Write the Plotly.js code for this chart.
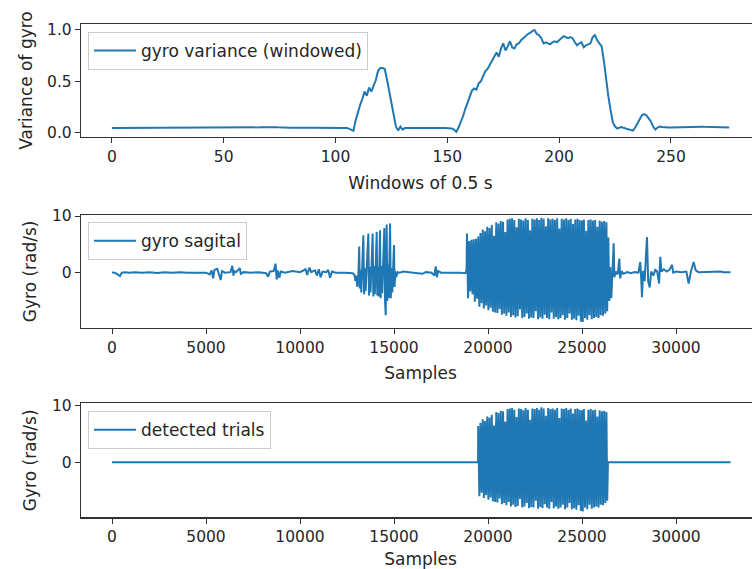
<!DOCTYPE html>
<html>
<head>
<meta charset="utf-8">
<script src="https://cdn.plot.ly/plotly-3.0.1.min.js"></script>
<style>
html, body { margin: 0; padding: 0; overflow: hidden; background: #fff; }
#chart { width: 770px; height: 569px; }
</style>
</head>
<body>
<div id="chart"></div>
<script>
// ---- Data ----
// Windowed gyro variance, one value per 0.5 s window (window 0 .. 276)
const varWin = [
  0.045,0.045,0.046,0.045,0.045,0.045,0.046,0.045,0.045,0.045,
  0.045,0.046,0.045,0.045,0.045,0.045,0.045,0.046,0.045,0.045,
  0.045,0.045,0.046,0.045,0.045,0.046,0.045,0.045,0.045,0.046,
  0.046,0.045,0.045,0.046,0.046,0.045,0.046,0.046,0.047,0.046,
  0.046,0.047,0.048,0.047,0.048,0.049,0.050,0.050,0.049,0.050,
  0.051,0.050,0.049,0.050,0.048,0.047,0.048,0.047,0.046,0.046,
  0.046,0.047,0.046,0.047,0.048,0.050,0.052,0.054,0.055,0.056,
  0.057,0.056,0.055,0.054,0.052,0.050,0.049,0.048,0.047,0.047,
  0.047,0.048,0.047,0.048,0.048,0.049,0.048,0.048,0.047,0.048,
  0.048,0.048,0.049,0.048,0.048,0.047,0.048,0.048,0.047,0.047,
  0.048,0.047,0.046,0.047,0.046,0.045,0.040,0.030,0.018,0.120,
  0.200,0.270,0.330,0.400,0.360,0.440,0.400,0.460,0.510,0.600,
  0.630,0.630,0.620,0.520,0.400,0.280,0.170,0.060,0.020,0.060,
  0.030,0.045,0.046,0.045,0.046,0.045,0.045,0.046,0.045,0.045,
  0.046,0.045,0.045,0.046,0.045,0.045,0.046,0.045,0.045,0.046,
  0.045,0.044,0.040,0.030,0.008,0.050,0.100,0.160,0.230,0.290,
  0.360,0.410,0.430,0.420,0.480,0.500,0.550,0.600,0.620,0.660,
  0.700,0.750,0.780,0.740,0.820,0.870,0.800,0.840,0.890,0.830,
  0.820,0.860,0.870,0.900,0.920,0.940,0.960,0.970,0.990,1.000,
  0.960,0.950,0.920,0.870,0.880,0.870,0.860,0.880,0.890,0.880,
  0.900,0.920,0.940,0.930,0.920,0.930,0.920,0.880,0.850,0.870,
  0.880,0.830,0.850,0.860,0.870,0.930,0.950,0.900,0.870,0.840,
  0.700,0.500,0.350,0.220,0.100,0.060,0.040,0.050,0.055,0.045,
  0.040,0.035,0.025,0.020,0.050,0.090,0.140,0.170,0.180,0.170,
  0.140,0.110,0.060,0.030,0.050,0.060,0.055,0.052,0.052,0.051,
  0.051,0.052,0.051,0.051,0.052,0.052,0.053,0.054,0.055,0.056,
  0.057,0.058,0.058,0.059,0.058,0.057,0.056,0.055,0.054,0.053,
  0.052,0.052,0.051,0.051,0.052,0.051,0.051
];

// Gyro sagittal signal, [sample, rad/s], quiet stretch before the first burst
const sagQuiet1 = [
  [0,0.05],[150,0.0],[250,-0.2],[425,-0.6],[520,0.0],[700,0.1],[900,0.0],[1200,0.1],
  [1600,0.0],[2000,0.1],[2400,-0.05],[2800,0.1],[3200,0.0],[3600,0.1],[4000,0.0],
  [4500,0.05],[5000,0.0],[5200,-0.3],[5300,0.4],[5380,-1.0],[5450,0.5],[5600,0.7],
  [5700,-0.3],[5780,-1.3],[5850,0.3],[6000,0.0],[6300,0.1],[6400,1.2],[6460,-0.5],
  [6500,0.3],[6600,0.1],[6800,0.8],[6850,-0.2],[7000,0.1],[7400,0.0],[7800,0.1],
  [8200,-0.1],[8300,-0.7],[8400,0.2],[8600,0.3],[8700,1.6],[8760,-1.2],[8820,0.4],
  [8900,-0.9],[8980,0.2],[9200,0.0],[9600,0.3],[10000,0.1],[10300,0.6],[10380,-0.4],
  [10500,0.9],[10600,0.1],[10800,0.4],[10900,-0.5],[11000,0.6],[11100,-0.8],[11200,0.2],
  [11400,0.1],[11500,0.5],[11600,-0.9],[11700,0.2],[11900,0.0],[12400,0.0],[12800,-0.1],
  [12900,-0.4]
];
// first walking burst
const sagBurst1 = [
  [12950,-1.5],[13000,-0.5],[13050,-2.5],[13100,-1.0],[13150,4.6],[13180,-2.8],[13220,0.5],
  [13260,-3.5],[13300,1.0],[13370,6.6],[13410,-3.8],[13450,0.8],[13490,-3.2],[13530,0.5],
  [13635,6.9],[13670,-4.0],[13710,1.0],[13750,-3.5],[13800,0.8],[13866,6.9],[13900,-4.2],
  [13940,1.2],[13980,-3.8],[14020,0.5],[14080,7.2],[14110,-4.0],[14150,1.0],[14190,-4.2],
  [14255,7.5],[14290,-4.5],[14330,1.2],[14370,-3.6],[14420,0.8],[14485,7.9],[14520,-4.8],
  [14560,-7.5],[14610,8.5],[14640,-5.0],[14680,1.5],[14720,-4.5],[14790,8.7],[14830,-4.5],
  [14870,0.8],[14910,-3.5],[14950,0.5],[15000,4.9],[15030,-2.5],[15070,0.3],[15110,-0.8]
];
const sagQuiet2 = [
  [15200,0.1],[15300,0.0],[15500,0.2],[15800,0.1],[16200,0.0],[16500,-0.2],[16700,0.1],
  [17000,0.0],[17150,-0.5],[17220,1.1],[17280,-0.8],[17350,0.3],[17500,0.0],[18000,0.05],
  [18500,0.0],[18800,-0.1]
];
// main walking trials (dense part)
const sagDense = [
  [18860,0.5],[18880,6.9],[18940,-4.5],[19000,5.6],[19060,-3.3],[19120,5.8],[19180,-3.8],
  [19240,5.9],[19300,-5.1],[19360,6.0],[19420,-4.6],[19480,6.4],[19540,-6.0],[19600,7.0],
  [19660,-5.4],[19720,7.6],[19780,-6.3],[19840,7.3],[19900,-5.8],[19960,8.1],[20020,-6.6],
  [20080,7.9],[20140,-6.2],[20200,8.4],[20260,-6.9],[20320,6.5],[20380,-7.0],[20440,8.9],
  [20500,-7.1],[20560,8.7],[20620,-6.4],[20680,9.1],[20740,-7.4],[20800,9.0],[20860,-7.2],
  [20920,7.2],[20980,-7.6],[21040,9.4],[21100,-7.0],[21160,9.5],[21220,-7.8],[21280,9.6],
  [21340,-7.5],[21400,9.3],[21460,-7.9],[21520,8.0],[21580,-7.7],[21640,9.5],[21700,-6.5],
  [21760,9.4],[21820,-8.0],[21880,9.2],[21940,-7.8],[22000,9.6],[22060,-7.2],[22120,9.3],
  [22180,-8.1],[22240,7.5],[22300,-7.9],[22360,9.5],[22420,-8.0],[22480,9.4],[22540,-6.8],
  [22600,9.6],[22660,-8.2],[22720,9.3],[22780,-7.9],[22840,9.7],[22900,-8.1],[22960,9.5],
  [23020,-7.4],[23080,8.2],[23140,-8.0],[23200,9.6],[23260,-8.2],[23320,9.4],[23380,-7.0],
  [23440,9.5],[23500,-8.1],[23560,9.3],[23620,-7.8],[23680,9.6],[23740,-8.2],[23800,7.8],
  [23860,-8.0],[23920,9.5],[23980,-7.5],[24040,9.4],[24100,-8.3],[24160,9.6],[24220,-8.0],
  [24280,9.3],[24340,-7.2],[24400,9.5],[24460,-8.3],[24520,8.6],[24580,-8.1],[24640,9.4],
  [24700,-8.4],[24760,9.5],[24820,-7.6],[24880,9.3],[24940,-8.6],[25000,9.2],[25040,-8.7],
  [25100,9.4],[25160,-8.0],[25220,7.4],[25280,-8.3],[25340,9.3],[25400,-7.5],[25460,9.4],
  [25520,-8.2],[25580,9.2],[25640,-8.0],[25700,9.3],[25760,-7.8],[25820,8.1],[25880,-8.0],
  [25940,9.2],[26000,-7.5],[26060,9.0],[26120,-7.6],[26180,9.1],[26240,-7.2],[26300,8.9],
  [26340,-6.8],[26400,6.2],[26450,-5.0],[26500,1.0],[26560,-4.5],[26620,0.3]
];
const sagQuiet3 = [
  [26685,5.2],[26720,-0.8],[26800,0.2],[26900,-0.3],[26985,2.5],[27030,-1.0],[27100,0.3],
  [27200,-0.2],[27400,0.1],[27600,-0.1],[27800,0.1],[28000,0.0],[28100,1.9],[28150,-1.0],
  [28190,-4.3],[28250,0.3],[28330,-1.5],[28457,6.3],[28520,-1.5],[28600,-2.6],[28680,0.2],
  [28800,-0.5],[28900,0.5],[29000,0.2],[29100,-1.9],[29165,2.8],[29230,0.2],[29350,0.6],
  [29500,0.2],[29650,0.5],[29790,1.4],[29850,0.0],[30000,0.2],[30300,0.1],[30550,0.2],
  [30675,-1.9],[30800,0.3],[30940,1.9],[31050,0.4],[31200,0.1],[31500,0.15],[32000,0.1],
  [32400,0.2],[32500,0.1],[32900,0.1]
];
// detected trial boundaries (samples) and record length
const trialStart = 19470;
const trialEnd = 26380;
const lastSample = 32900;

const xTicks1 = [0, 50, 100, 150, 200, 250];
const xTicks2 = [0, 5000, 10000, 15000, 20000, 25000, 30000];

// ---- Build traces ----
const sagAll = [].concat(sagQuiet1, sagBurst1, sagQuiet2, sagDense, sagQuiet3);
const trialPts = [[0, 0], [trialStart, 0]]
  .concat(sagDense.filter(p => p[0] >= trialStart && p[0] <= trialEnd))
  .concat([[trialEnd, 0], [lastSample, 0]]);

const blue = '#1f77b4';
const FONT = 'DejaVu Sans, Arial, sans-serif';
const txt = '#262626';
const LW = 2;

const traces = [
  { x: varWin.map((_, i) => i), y: varWin, type: 'scatter', mode: 'lines',
    name: 'gyro variance (windowed)', line: { color: blue, width: LW },
    xaxis: 'x', yaxis: 'y', legend: 'legend' },
  { x: sagAll.map(p => p[0]), y: sagAll.map(p => p[1]), type: 'scatter', mode: 'lines',
    name: 'gyro sagital', line: { color: blue, width: LW },
    xaxis: 'x2', yaxis: 'y2', legend: 'legend2' },
  { x: trialPts.map(p => p[0]), y: trialPts.map(p => p[1]), type: 'scatter', mode: 'lines',
    name: 'detected trials', line: { color: blue, width: LW },
    xaxis: 'x3', yaxis: 'y3', legend: 'legend3' }
];

const W = 770, H = 569;
const xDom = [81 / W, 760 / W];
const axBase = {
  showline: true, mirror: true, linecolor: '#333', linewidth: 1.2,
  ticks: 'outside', ticklen: 5, tickwidth: 1, tickcolor: '#333',
  showgrid: false, zeroline: false,
  tickfont: { family: FONT, size: 15.5, color: txt },
  title: { font: { family: FONT, size: 17, color: txt } }
};
function ax(extra) {
  const o = JSON.parse(JSON.stringify(axBase));
  for (const k in extra) {
    if (k === 'title') o.title = Object.assign(o.title, extra.title);
    else o[k] = extra[k];
  }
  return o;
}
const legBase = {
  bgcolor: 'rgba(255,255,255,0.8)', bordercolor: '#cccccc', borderwidth: 1,
  font: { family: FONT, size: 17, color: txt }, xanchor: 'left', yanchor: 'top',
  xref: 'paper', yref: 'paper', x: 88 / W, itemwidth: 42
};

const layout = {
  width: W, height: H,
  margin: { l: 0, r: 0, t: 0, b: 0 },
  paper_bgcolor: '#fff', plot_bgcolor: '#fff',
  showlegend: true,
  xaxis: ax({ domain: xDom, anchor: 'y', range: [-13.8, 289.8], tickvals: xTicks1,
    title: { text: 'Windows of 0.5 s', standoff: 12 } }),
  yaxis: ax({ domain: [1 - 136.7 / H, 1 - 24.3 / H], anchor: 'x', range: [-0.039, 1.055],
    tickvals: [0, 0.5, 1.0], ticktext: ['0.0', '0.5', '1.0'],
    title: { text: 'Variance of gyro', standoff: 10 } }),
  xaxis2: ax({ domain: xDom, anchor: 'y2', range: [-1649, 34468], tickvals: xTicks2,
    tickformat: 'd', title: { text: 'Samples', standoff: 11 } }),
  yaxis2: ax({ domain: [1 - 327.7 / H, 1 - 215 / H], anchor: 'x2', range: [-9.70, 10.18],
    tickvals: [0, 10], title: { text: 'Gyro (rad/s)', standoff: 11 } }),
  xaxis3: ax({ domain: xDom, anchor: 'y3', range: [-1649, 34468], tickvals: xTicks2,
    tickformat: 'd', title: { text: 'Samples', standoff: 9 } }),
  yaxis3: ax({ domain: [1 - 517.3 / H, 1 - 403.3 / H], anchor: 'x3', range: [-9.72, 10.42],
    tickvals: [0, 10], title: { text: 'Gyro (rad/s)', standoff: 11 } }),
  legend: Object.assign({}, legBase, { y: 1 - 32 / H }),
  legend2: Object.assign({}, legBase, { y: 1 - 222.3 / H }),
  legend3: Object.assign({}, legBase, { y: 1 - 411.3 / H })
};

Plotly.newPlot('chart', traces, layout, { displayModeBar: false, staticPlot: true });
</script>
</body>
</html>
